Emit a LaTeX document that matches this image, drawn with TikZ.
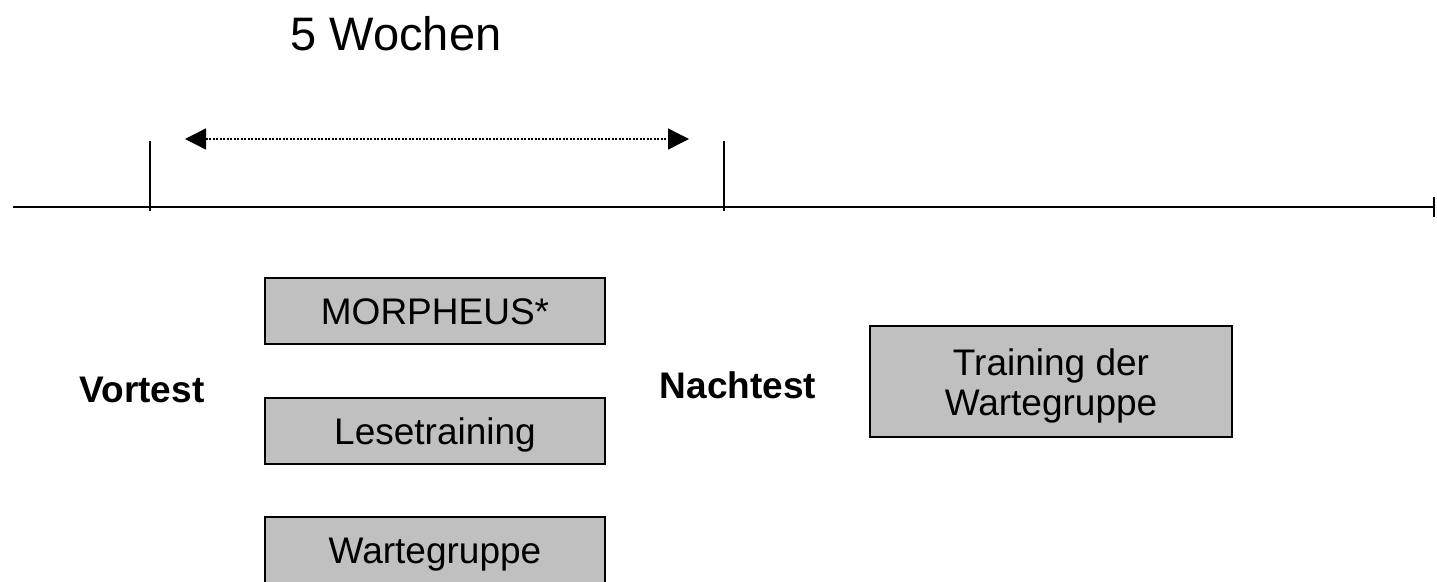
\documentclass[tikz,border=0pt]{standalone}
\usepackage{fontspec}
\setmainfont{Liberation Sans}
\usetikzlibrary{arrows.meta}
\definecolor{gruppegrau}{HTML}{C0C0C0}
\begin{document}
\begin{tikzpicture}[x=1pt,y=-1pt,
   gruppe/.style={draw=black,line width=2pt,fill=gruppegrau,minimum width=340pt,
     minimum height=66pt,inner sep=0pt,text height=27pt,text depth=0pt,
     font=\fontsize{37}{40}\selectfont},
   testlabel/.style={anchor=base,font=\fontsize{37}{40}\selectfont\bfseries}]
   \useasboundingbox (0,0) rectangle (1437,581);
   % Zeitachse mit den zwei Testzeitpunkten
   \coordinate (achseA) at (13,207);
   \coordinate (achseE) at (1435,207);
   \draw[line width=2.5pt,-{Bar[width=20pt]}] (achseA) -- (achseE);
   \draw[line width=2.5pt] (150,141) -- (150,211);
   \draw[line width=2.5pt] (724,141) -- (724,211);
   % Dauer
   \node[anchor=base,font=\fontsize{47}{50}\selectfont] (dauer) at (396,50) {5 Wochen};
   \coordinate (pfeilL) at (185,139);
   \coordinate (pfeilR) at (689,139);
   \draw[line width=1.3pt,dash pattern=on 2pt off 1.5pt,{Triangle[length=21pt,width=21pt]}-{Triangle[length=21pt,width=21pt]}] (pfeilL) -- (pfeilR);
   % Tests und Gruppen
   \node[testlabel] (vortest) at (142,402) {Vortest};
   \node[testlabel] (nachtest) at (738,398) {Nachtest};
   \node[gruppe] (morpheus) at (435,311) {MORPHEUS*};
   \node[gruppe] (lese) at (435,431) {Lesetraining};
   \node[gruppe] (warte) at (435,550) {Wartegruppe};
   \node[gruppe,minimum width=362pt,minimum height=111pt,text height=67pt,align=center]
     (training) at (1051,381.5) {Training der\\Wartegruppe};
\end{tikzpicture}
\end{document}
